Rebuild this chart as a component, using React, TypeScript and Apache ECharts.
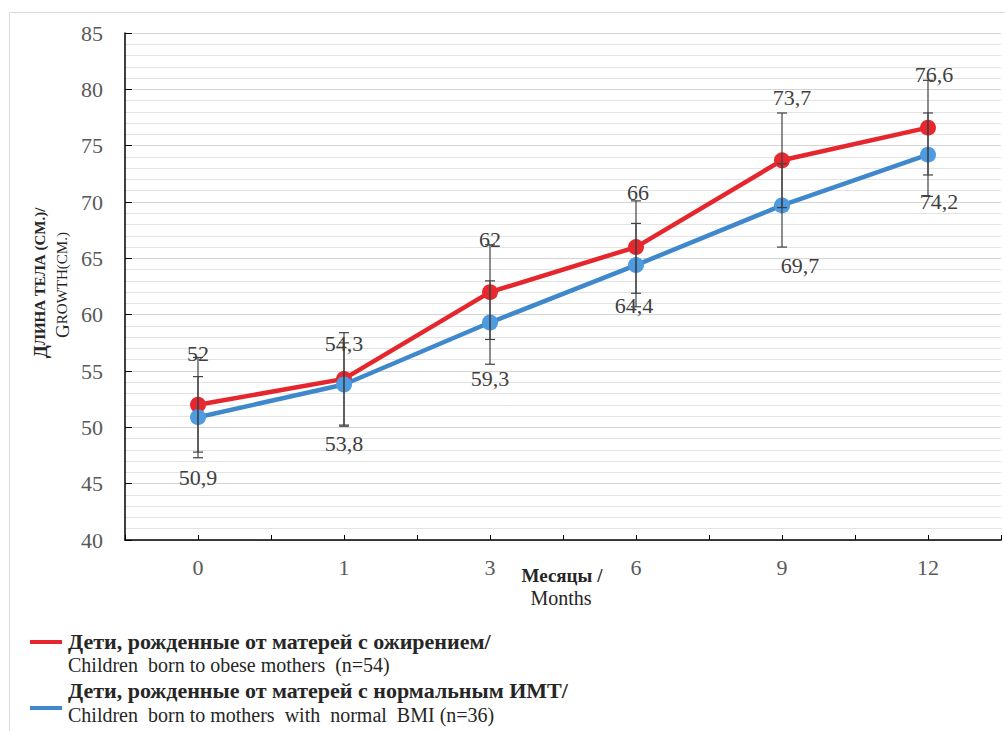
import React, { useEffect, useRef } from "react";
import * as echarts from "echarts";

const months = ["0", "1", "3", "6", "9", "12"];
const obeseValues = [52, 54.3, 62, 66, 73.7, 76.6];
const normalValues = [50.9, 53.8, 59.3, 64.4, 69.7, 74.2];
const obeseErrors = [4.2, 4.1, 4.2, 4.1, 4.2, 4.2];
const normalErrors = [3.6, 3.7, 3.7, 3.7, 3.7, 3.7];
const yTicks = [40, 45, 50, 55, 60, 65, 70, 75, 80, 85];

// label placement (styling only)
const obeseLabelOffsets = [[0, -51], [0, -35], [0, -53], [2, -55], [10, -63], [6, -53]];
const normalLabelOffsets = [[0, 60], [0, 59], [0, 56], [-2, 40], [18, 60], [11, 47]];

const SERIF = "Liberation Serif, DejaVu Serif, serif";
const RED = "#e5262c";
const RED_DOT = "#e8282e";
const BLUE = "#4088cc";
const BLUE_DOT = "#4d9be0";

const fmt = (v: number) => String(v).replace(".", ",");

export default function App() {
  const ref = useRef<HTMLDivElement>(null);
  useEffect(() => {
    const chart = echarts.init(ref.current!, null, { renderer: "svg" });

    const errData = (vals: number[], errs: number[]) =>
      vals.map((v, i) => [i, v - errs[i], v + errs[i]]);

    const renderErr = (params: any, api: any) => {
      const x = api.value(0);
      const lo = api.coord([x, api.value(1)]);
      const hi = api.coord([x, api.value(2)]);
      const w = 5;
      const style = { stroke: "#404040", lineWidth: 1.2 };
      return {
        type: "group",
        children: [
          { type: "line", shape: { x1: hi[0], y1: hi[1], x2: lo[0], y2: lo[1] }, style },
          { type: "line", shape: { x1: hi[0] - w, y1: hi[1], x2: hi[0] + w, y2: hi[1] }, style },
          { type: "line", shape: { x1: lo[0] - w, y1: lo[1], x2: lo[0] + w, y2: lo[1] }, style },
        ],
      };
    };

    const labelled = (vals: number[], offs: number[][]) =>
      vals.map((v, i) => ({
        value: v,
        label: { offset: offs[i] },
      }));

    const labelStyle = {
      show: true,
      position: "inside",
      color: "#404040",
      fontFamily: SERIF,
      fontSize: 22,
      formatter: (p: any) => fmt(p.value),
    };

    const legendText = (text: string, y: number, bold: boolean) => ({
      type: "text",
      x: 68,
      y,
      style: {
        text,
        verticalAlign: "middle",
        fontFamily: SERIF,
        fontWeight: bold ? "bold" : "normal",
        fontSize: bold ? 22 : 20,
        fill: "#262626",
      },
    });

    chart.setOption({
      animation: false,
      backgroundColor: "#ffffff",
      textStyle: { fontFamily: SERIF },
      grid: { left: 125, top: 33, right: 4, bottom: 191, containLabel: false },
      xAxis: [
        {
          type: "category",
          data: months,
          boundaryGap: true,
          axisLine: { show: true, lineStyle: { color: "#000", width: 1.5 } },
          axisTick: { show: true, inside: true, length: 5, alignWithLabel: true, lineStyle: { color: "#000" } },
          axisLabel: { color: "#595959", fontFamily: SERIF, fontSize: 22, margin: 16 },
          splitLine: { show: false },
        },
        {
          type: "category",
          data: months,
          boundaryGap: true,
          position: "bottom",
          axisLine: { show: false },
          axisTick: { show: true, inside: true, length: 5, lineStyle: { color: "#000" } },
          axisLabel: { show: false },
          splitLine: { show: false },
        },
      ],
      yAxis: {
        type: "value",
        min: yTicks[0],
        max: yTicks[yTicks.length - 1],
        interval: 5,
        axisLine: { show: true, lineStyle: { color: "#000", width: 1.5 } },
        axisTick: { show: true, inside: true, length: 7, lineStyle: { color: "#000" } },
        axisLabel: { color: "#595959", fontFamily: SERIF, fontSize: 22, margin: 22 },
        splitLine: { show: true, lineStyle: { color: "#d4d4d4", width: 1 } },
        minorTick: { show: false, splitNumber: 5 },
        minorSplitLine: { show: true, lineStyle: { color: "#e3e3e3", width: 1 } },
      },
      series: [
        {
          name: "Дети, рожденные от матерей с ожирением",
          type: "line",
          data: labelled(obeseValues, obeseLabelOffsets),
          lineStyle: { color: RED, width: 4.5 },
          itemStyle: { color: RED_DOT },
          symbol: "circle",
          symbolSize: 16,
          label: labelStyle,
          z: 3,
        },
        {
          name: "Дети, рожденные от матерей с нормальным ИМТ",
          type: "line",
          data: labelled(normalValues, normalLabelOffsets),
          lineStyle: { color: BLUE, width: 4.5 },
          itemStyle: { color: BLUE_DOT },
          symbol: "circle",
          symbolSize: 16,
          label: labelStyle,
          z: 4,
        },
        {
          type: "custom",
          renderItem: renderErr,
          data: errData(obeseValues, obeseErrors),
          encode: { x: 0, y: [1, 2] },
          z: 6,
          silent: true,
        },
        {
          type: "custom",
          renderItem: renderErr,
          data: errData(normalValues, normalErrors),
          encode: { x: 0, y: [1, 2] },
          z: 6,
          silent: true,
        },
      ],
      graphic: [
        {
          type: "rect",
          shape: { x: 9.5, y: 12.5, width: 1010, height: 740 },
          style: { fill: "none", stroke: "#d9d9d9", lineWidth: 1 },
          z: -10,
        },
        {
          type: "text",
          x: 40,
          y: 283,
          rotation: Math.PI / 2,
          style: {
            text: "{a|Д}{b|ЛИНА ТЕЛА (СМ.)/}",
            align: "center",
            verticalAlign: "middle",
            fill: "#262626",
            rich: {
              a: { fontFamily: SERIF, fontWeight: "bold", fontSize: 19, fill: "#262626" },
              b: { fontFamily: SERIF, fontWeight: "bold", fontSize: 15, fill: "#262626" },
            },
          },
        },
        {
          type: "text",
          x: 62,
          y: 285,
          rotation: Math.PI / 2,
          style: {
            text: "{a|G}{b|ROWTH(СМ.)}",
            align: "center",
            verticalAlign: "middle",
            fill: "#262626",
            rich: {
              a: { fontFamily: SERIF, fontSize: 19, fill: "#262626" },
              b: { fontFamily: SERIF, fontSize: 15, fill: "#262626" },
            },
          },
        },
        {
          type: "text",
          x: 562,
          y: 575,
          style: {
            text: "Месяцы /",
            align: "center",
            verticalAlign: "middle",
            fontFamily: SERIF,
            fontWeight: "bold",
            fontSize: 19,
            fill: "#262626",
          },
        },
        {
          type: "text",
          x: 561,
          y: 598,
          style: {
            text: "Months",
            align: "center",
            verticalAlign: "middle",
            fontFamily: SERIF,
            fontSize: 20,
            fill: "#262626",
          },
        },
        {
          type: "line",
          shape: { x1: 30, y1: 642, x2: 62, y2: 642 },
          style: { stroke: RED, lineWidth: 4 },
        },
        legendText("Дети, рожденные от матерей с ожирением/", 641, true),
        legendText("Children  born to obese mothers  (n=54)", 665, false),
        {
          type: "line",
          shape: { x1: 30, y1: 708, x2: 62, y2: 708 },
          style: { stroke: BLUE, lineWidth: 4 },
        },
        legendText("Дети, рожденные от матерей с нормальным ИМТ/", 690, true),
        legendText("Children  born to mothers  with  normal  BMI (n=36)", 715, false),
      ],
    });
    return () => chart.dispose();
  }, []);
  return (
    <div
      ref={ref}
      style={{ position: "absolute", left: 0, top: 0, width: 1005, height: 731 }}
    />
  );
}
